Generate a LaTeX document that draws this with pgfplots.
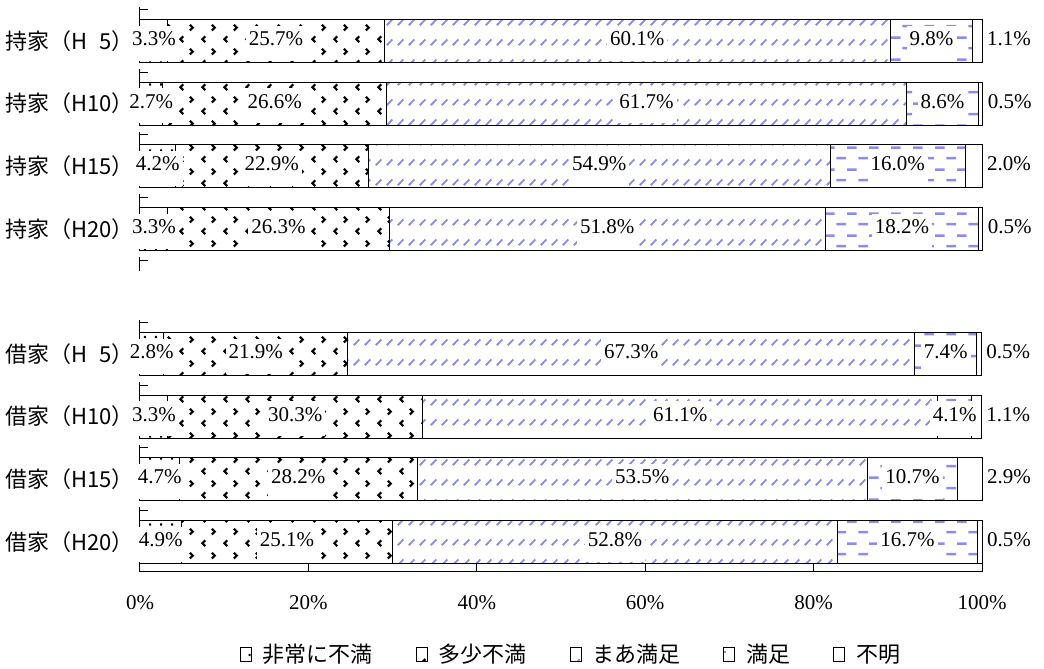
\documentclass[border=0pt]{standalone}
\usepackage{fontspec}
\setmainfont{Liberation Serif}
\newfontfamily\jp{Noto Sans CJK JP}
\usepackage{pgfplots}
\usepackage{pgfplotstable}
\pgfplotsset{compat=1.18}
\usetikzlibrary{patterns}

\definecolor{hatchblue}{RGB}{140,140,240}

% fill patterns for the five answer groups
\pgfdeclarepatternformonly{fineDots}{\pgfqpoint{0pt}{0pt}}{\pgfqpoint{11pt}{22pt}}{\pgfqpoint{11pt}{22pt}}{%
  \pgfpathrectangle{\pgfqpoint{1pt}{1pt}}{\pgfqpoint{2.2pt}{2.2pt}}%
  \pgfpathrectangle{\pgfqpoint{6.5pt}{12pt}}{\pgfqpoint{2.2pt}{2.2pt}}%
  \pgfusepath{fill}}
\pgfdeclarepatternformonly{chevrons}{\pgfqpoint{0pt}{0pt}}{\pgfqpoint{22pt}{24pt}}{\pgfqpoint{22pt}{24pt}}{%
  \pgfsetlinewidth{2.2pt}%
  \pgfpathmoveto{\pgfqpoint{7.5pt}{9pt}}\pgfpathlineto{\pgfqpoint{4.5pt}{6pt}}\pgfpathlineto{\pgfqpoint{7.5pt}{3pt}}%
  \pgfpathmoveto{\pgfqpoint{14.5pt}{21pt}}\pgfpathlineto{\pgfqpoint{17.5pt}{18pt}}\pgfpathlineto{\pgfqpoint{14.5pt}{15pt}}%
  \pgfusepath{stroke}}
\pgfdeclarepatternformonly{slashes}{\pgfqpoint{0pt}{0pt}}{\pgfqpoint{11pt}{20pt}}{\pgfqpoint{11pt}{20pt}}{%
  \pgfsetlinewidth{2pt}%
  \pgfpathmoveto{\pgfqpoint{2pt}{4pt}}\pgfpathlineto{\pgfqpoint{8pt}{10pt}}%
  \pgfusepath{stroke}}
\pgfdeclarepatternformonly{dashrows}{\pgfqpoint{0pt}{0pt}}{\pgfqpoint{22pt}{22pt}}{\pgfqpoint{22pt}{22pt}}{%
  \pgfsetlinewidth{2.6pt}%
  \pgfpathmoveto{\pgfqpoint{0.5pt}{5pt}}\pgfpathlineto{\pgfqpoint{10.5pt}{5pt}}%
  \pgfpathmoveto{\pgfqpoint{11.5pt}{16pt}}\pgfpathlineto{\pgfqpoint{21.5pt}{16pt}}%
  \pgfusepath{stroke}}

% shares (%) per row: y position, 非常に不満, 多少不満, まあ満足, 満足, 不明
\pgfplotstableread{
y a b c d e
8 3.3 25.7 60.1 9.8 1.1
7 2.7 26.6 61.7 8.6 0.5
6 4.2 22.9 54.9 16.0 2.0
5 3.3 26.3 51.8 18.2 0.5
3 2.8 21.9 67.3 7.4 0.5
2 3.3 30.3 61.1 4.1 1.1
1 4.7 28.2 53.5 10.7 2.9
0 4.9 25.1 52.8 16.7 0.5
}\shares

\pgfplotsset{
  chartgeom/.style={scale only axis, width=842pt, height=568.4pt,
    xmin=0, xmax=100, ymin=-0.48, ymax=8.6, xbar stacked, bar width=43pt},
}
\tikzset{
  vallabel/.style={font=\fontsize{21}{25}\selectfont, anchor=center, text=black,
    inner xsep=3pt, inner ysep=0pt, text height=20pt, text depth=15pt, yshift=-2.25pt},
}

\begin{document}
\begin{tikzpicture}
\begin{axis}[chartgeom, name=main, clip=false,
  axis x line=bottom, axis y line=left,
  axis line style={-, line width=1pt, black},
  y axis line style={draw=none},
  xtick={0,20,...,100}, tick align=inside, major tick length=9pt,
  xtick style={line width=1pt, black},
  ytick={0,1,2,3,5,6,7,8}, ytick style={draw=none},
  yticklabels={{借家（H20）},{借家（H15）},{借家（H10）},{借家（H\hphantom{1}5）},
               {持家（H20）},{持家（H15）},{持家（H10）},{持家（H\hphantom{1}5）}},
  /pgf/number format/assume math mode=true,
  xticklabel={\pgfmathprintnumber{\tick}\%},
  xticklabel style={font=\fontsize{21}{25}\selectfont, anchor=north, inner sep=0pt, yshift=-24pt},
  yticklabel style={font=\jp\fontsize{22}{26}\selectfont, anchor=east, inner sep=0pt, xshift=-6pt},
  every axis plot post/.append style={legend image code/.code={%
      \draw[#1, line width=0.8pt, draw=black] (0pt,-7pt) rectangle (11pt,7pt);}},
  legend columns=5,
  legend style={at={(0.512,0)}, anchor=north, yshift=-68pt, draw=none, fill=none,
    font=\jp\fontsize{22}{26}\selectfont,
    /tikz/every odd column/.append style={column sep=9pt},
    /tikz/every even column/.append style={column sep=41pt}},
  legend cell align=left,
]
\addplot[draw=black, line width=1pt, pattern=fineDots, pattern color=black] table[x=a, y=y]{\shares};
\addplot[draw=black, line width=1pt, pattern=chevrons, pattern color=black] table[x=b, y=y]{\shares};
\addplot[draw=black, line width=1pt, pattern=slashes, pattern color=hatchblue] table[x=c, y=y]{\shares};
\addplot[draw=black, line width=1pt, pattern=dashrows, pattern color=hatchblue] table[x=d, y=y]{\shares};
\addplot[draw=black, line width=1pt, fill=white] table[x=e, y=y]{\shares};
\legend{非常に不満, 多少不満, まあ満足, 満足, 不明}
% row separators on the category side
\pgfplotsinvokeforeach{8.5,7.5,6.5,5.5,4.5,3.5,2.5,1.5,0.5}{
  \draw[black, line width=1pt] ([yshift=3pt]axis cs:0,#1) -- ([yshift=-11pt]axis cs:0,#1);
  \draw[black, line width=1pt] (axis cs:0,#1) -- ([xshift=8pt]axis cs:0,#1);
}
\end{axis}
% value labels, drawn above all bars (stacked nodes sit at each segment's middle)
\begin{axis}[chartgeom, at={(main.south west)}, anchor=south west, hide axis, clip=false,
  /pgf/number format/assume math mode=true,
  visualization depends on={rawx \as \rawx},
  nodes near coords={\pgfmathprintnumber[fixed, fixed zerofill, precision=1]{\rawx}\%},
  every node near coord/.style={vallabel, fill=white},
]
\addplot[draw=none, fill=none] table[x=a, y=y]{\shares};
\addplot[draw=none, fill=none] table[x=b, y=y]{\shares};
\addplot[draw=none, fill=none] table[x=c, y=y]{\shares};
\addplot[draw=none, fill=none] table[x=d, y=y]{\shares};
\addplot[draw=none, fill=none,
  every node near coord/.style={vallabel, xshift={27pt+\rawx*4.21pt}}]
  table[x=e, y=y]{\shares};
\end{axis}
\path ([xshift=-140pt, yshift=-94pt]main.south west) rectangle ([xshift=62pt, yshift=3.4pt]main.north east);
\end{tikzpicture}
\end{document}
